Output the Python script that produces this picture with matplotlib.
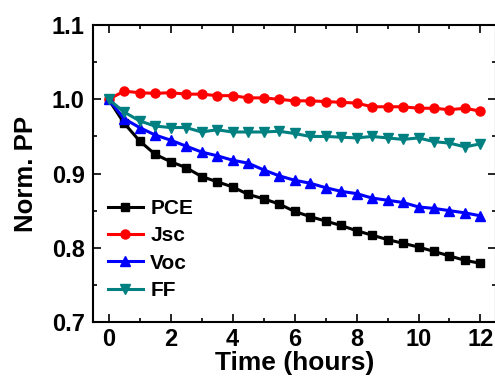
import matplotlib
matplotlib.use("Agg")
import matplotlib.pyplot as plt
from matplotlib.ticker import MultipleLocator

plt.rcParams['font.family'] = ['Liberation Sans', 'DejaVu Sans']
plt.rcParams['font.weight'] = 'bold'

# time in hours, one point every half hour
t = [0, 0.5, 1, 1.5, 2, 2.5, 3, 3.5, 4, 4.5, 5, 5.5, 6,
     6.5, 7, 7.5, 8, 8.5, 9, 9.5, 10, 10.5, 11, 11.5, 12]

pce = [1.000, 0.968, 0.944, 0.926, 0.916, 0.908, 0.896, 0.889, 0.882, 0.872, 0.866, 0.859, 0.849,
       0.842, 0.836, 0.830, 0.823, 0.817, 0.811, 0.806, 0.801, 0.795, 0.789, 0.783, 0.779]
jsc = [1.000, 1.011, 1.009, 1.008, 1.009, 1.007, 1.007, 1.005, 1.005, 1.002, 1.002, 1.000, 0.998,
       0.998, 0.997, 0.996, 0.995, 0.990, 0.990, 0.990, 0.988, 0.988, 0.986, 0.988, 0.984]
voc = [1.000, 0.974, 0.962, 0.952, 0.945, 0.937, 0.929, 0.924, 0.918, 0.914, 0.905, 0.897, 0.891,
       0.887, 0.881, 0.876, 0.873, 0.867, 0.864, 0.861, 0.855, 0.853, 0.850, 0.847, 0.843]
ff = [1.000, 0.983, 0.971, 0.964, 0.962, 0.962, 0.956, 0.959, 0.956, 0.956, 0.956, 0.957, 0.954,
      0.950, 0.950, 0.949, 0.948, 0.950, 0.948, 0.946, 0.948, 0.943, 0.941, 0.936, 0.940]

fig = plt.figure(figsize=(4.95, 3.81), dpi=100)
ax = fig.add_axes([0.188, 0.155, 0.814, 0.779])

ax.plot(t, pce, '-s', color='black', lw=2.2, ms=6, label='PCE')
ax.plot(t, jsc, '-o', color='red', lw=2.2, ms=6.5, label='Jsc')
ax.plot(t, voc, '-^', color='blue', lw=2.2, ms=7, label='Voc')
ax.plot(t, ff, '-v', color='teal', lw=2.2, ms=7, label='FF')

ax.set_xlim(-0.5, 12.5)
ax.set_ylim(0.7, 1.1)
ax.xaxis.set_major_locator(MultipleLocator(2))
ax.xaxis.set_minor_locator(MultipleLocator(1))
ax.yaxis.set_major_locator(MultipleLocator(0.1))
ax.yaxis.set_minor_locator(MultipleLocator(0.05))
ax.tick_params(which='both', direction='in', top=True, right=True, width=1.2)
ax.tick_params(which='major', length=6, labelsize=17, pad=6)
ax.tick_params(axis='x', which='major', pad=4)
ax.tick_params(which='minor', length=3)
for s in ax.spines.values():
    s.set_linewidth(1.5)

ax.set_xlabel('Time (hours)', fontsize=19, fontweight='bold', labelpad=0)
ax.set_ylabel('Norm. PP', fontsize=18.5, fontweight='bold', labelpad=10)

ax.legend(loc='lower left', bbox_to_anchor=(0.0, 0.025), frameon=False,
          fontsize=15, handlelength=1.7, handletextpad=0.35, labelspacing=0.4,
          borderaxespad=0.3)

fig.savefig('out.png', dpi=100)
